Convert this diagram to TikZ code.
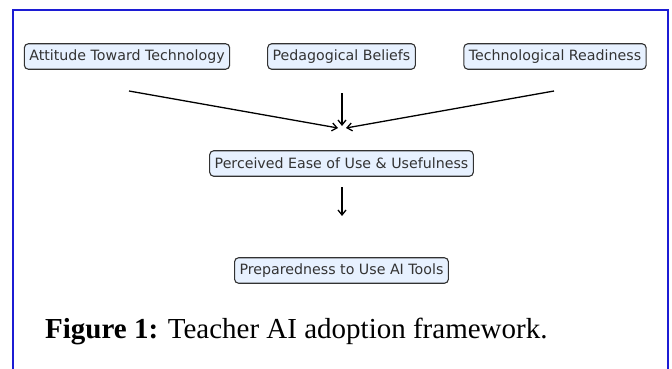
\documentclass[tikz,border=0pt]{standalone}
\usepackage{fontspec}
\setmainfont{Liberation Serif}
\newfontfamily\boxfont{DejaVu Sans}
\usetikzlibrary{arrows.meta}
\definecolor{framecol}{RGB}{28,28,212}
\definecolor{boxfill}{RGB}{231,241,255}
\definecolor{boxline}{RGB}{50,50,50}
\tikzset{
	factorbox/.style={draw=boxline, fill=boxfill, rounded corners=4pt, line width=1.1pt,
		text=black!80, font=\boxfont\fontsize{14.2}{16}\selectfont,
		inner xsep=5pt, minimum height=25.5pt},
	flowarrow/.style={line width=1.3pt, -{Straight Barb[length=5pt,width=8pt]}}
}

\begin{document}
\begin{tikzpicture}[x=1pt, y=-1pt]
			%%%%% START %%%%%
			
			\useasboundingbox (0, 0) rectangle (672, 369);
			\fill[white] (0, 0) rectangle (672, 369);
			
			% frame, open at the bottom
			\draw[line width=2.5pt, color=framecol] (13, 369) -- (13, 10) -- (668, 10) -- (668, 369);
			
			% factors
			\node[factorbox] (attitude) at (127, 56.5) {Attitude Toward Technology};
			\node[factorbox] (beliefs) at (341.5, 56.5) {Pedagogical Beliefs};
			\node[factorbox] (readiness) at (555, 56.5) {Technological Readiness};
			
			\node[factorbox] (ease) at (341.5, 163.5) {Perceived Ease of Use \& Usefulness};
			\node[factorbox] (prepared) at (341.5, 270.5) {Preparedness to Use AI Tools};
			
			% arrow ends
			\coordinate (attitudetail) at (129, 91);
			\coordinate (beliefstail) at (342, 93);
			\coordinate (readinesstail) at (554, 91);
			\coordinate (joinleft) at (338, 128);
			\coordinate (joinmid) at (342, 126);
			\coordinate (joinright) at (346, 128);
			\coordinate (easetail) at (342, 187);
			\coordinate (preparedhead) at (342, 216);
			
			\draw[flowarrow] (attitudetail) -- (joinleft);
			\draw[flowarrow] (beliefstail) -- (joinmid);
			\draw[flowarrow] (readinesstail) -- (joinright);
			\draw[flowarrow] (easetail) -- (preparedhead);
			
			% caption
			\node[anchor=base west, inner sep=0pt, font=\fontsize{29}{32}\selectfont] (caption) at (45, 338)
				{\textbf{Figure 1:} Teacher AI adoption framework.};
			
			%%%%% END %%%%%
		\end{tikzpicture}
\end{document}
